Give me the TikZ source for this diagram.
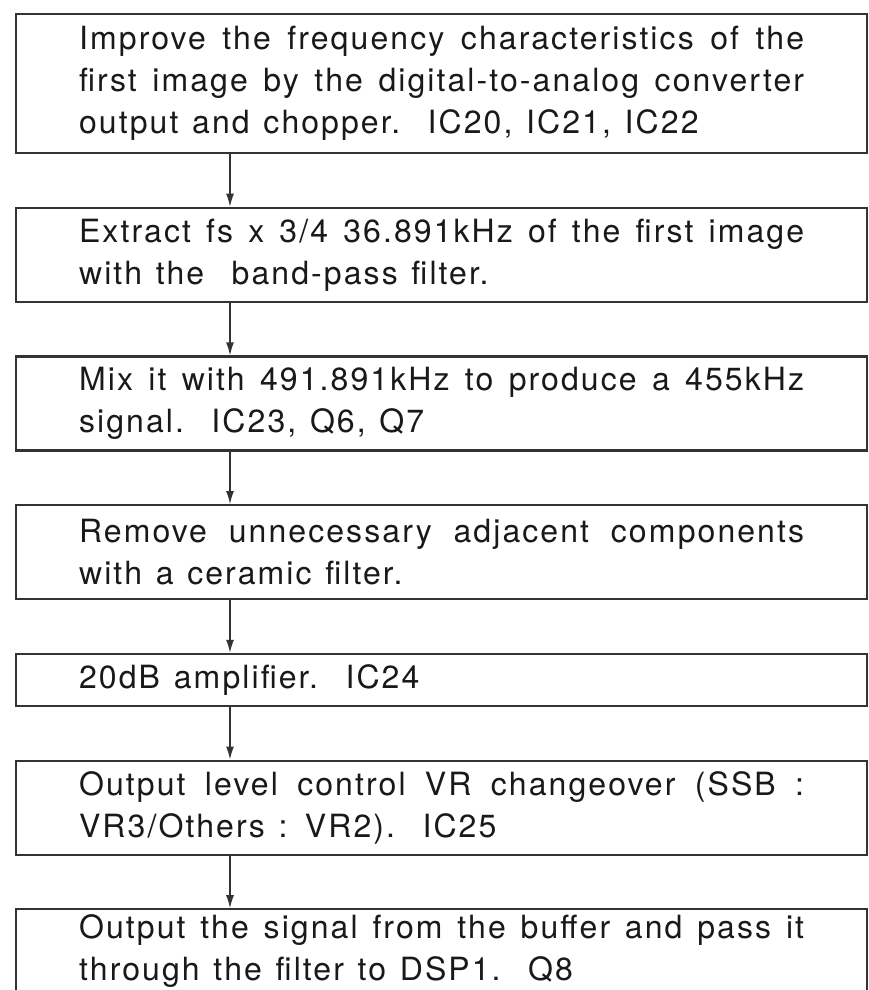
\documentclass[tikz,border=0pt]{standalone}
\usepackage{fontspec}
\setmainfont{TeX Gyre Heros}[LetterSpace=6.5,WordSpace=1.25]
\usetikzlibrary{positioning,arrows.meta}

\begin{document}
\begin{tikzpicture}[x=1pt, y=1pt, node distance=52.5pt,
                    stage node/.style={rectangle,draw=black!80,line width=2.2pt,text=black!90,
                      minimum width=851pt,minimum height=94pt,text width=725pt,
                      align=justify,inner xsep=0pt,font=\fontsize{32pt}{42pt}\selectfont},
                    flow/.style={-{Latex[length=13pt,width=8pt]},line width=1.4pt,draw=black!80}]
    \useasboundingbox (0,0) rectangle (868,-990);
    \node[stage node,minimum height=139pt,anchor=north west] (1) at (15,-13)
        {Improve the frequency characteristics of the\linebreak
         first image by the digital-to-analog converter\linebreak
         output and chopper.\ \ IC20, IC21, IC22};
    \node[stage node] (2) [below=of 1]
        {Extract fs x 3/4 36.891kHz of the first image\linebreak
         with the\ \ band-pass filter.};
    \node[stage node] (3) [below=of 2]
        {Mix it with 491.891kHz to produce a 455kHz\linebreak
         signal.\ \ IC23, Q6, Q7};
    \node[stage node] (4) [below=of 3]
        {Remove unnecessary adjacent components\linebreak
         with a ceramic filter.};
    \node[stage node,minimum height=52pt] (5) [below=of 4]
        {20dB amplifier.\ \ IC24};
    \node[stage node] (6) [below=of 5]
        {Output level control VR changeover (SSB :\linebreak
         VR3/Others : VR2).\ \ IC25};
    % last box runs past the lower edge
    \node[stage node,inner ysep=3pt,text height=26pt,text depth=80pt] (7) [below=of 6]
        {Output the signal from the buffer and pass it\linebreak
         through the filter to DSP1.\ \ Q8};

    \foreach \a/\b in {1/2,2/3,3/4,4/5,5/6,6/7}
        \draw[flow] ([xshift=215pt]\a.south west) -- ([xshift=215pt]\b.north west);
\end{tikzpicture}
\end{document}
